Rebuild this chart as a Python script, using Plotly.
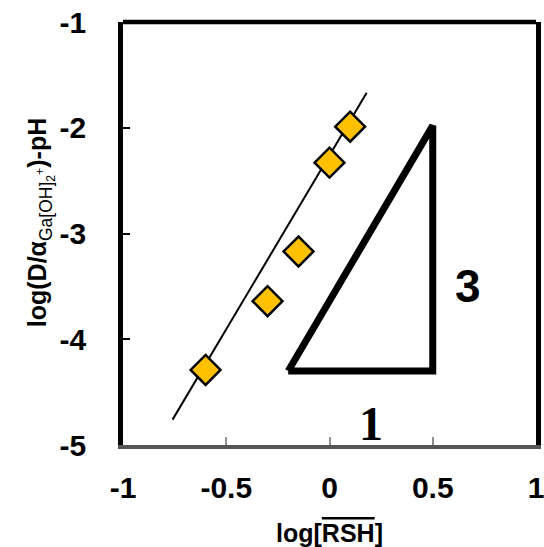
import plotly.graph_objects as go

# measured points
log_rsh = [-0.60, -0.30, -0.15, 0.00, 0.10]
log_d_ph = [-4.29, -3.64, -3.17, -2.33, -1.99]

# fitted line (slope ~3) drawn between its two end points
fit_x = [-0.76, 0.18]
fit_y = [-4.76, -1.67]

# slope-3 guide triangle
tri_x = [-0.20, 0.50, 0.50, -0.20]
tri_y = [-4.30, -4.30, -1.98, -4.30]

x_ticks = [-1, -0.5, 0, 0.5, 1]
x_tick_text = ["-1", "-0.5", "0", "0.5", "1"]
y_ticks = [-5, -4, -3, -2, -1]
y_tick_text = ["-5", "-4", "-3", "-2", "-1"]

SANS = "Liberation Sans, Arial, sans-serif"
SERIF = "Liberation Serif, Times New Roman, serif"

fig = go.Figure()

fig.add_trace(go.Scatter(
    x=tri_x, y=tri_y, mode="lines",
    line=dict(color="black", width=7), hoverinfo="skip", showlegend=False,
))
fig.add_trace(go.Scatter(
    x=fit_x, y=fit_y, mode="lines",
    line=dict(color="black", width=2), hoverinfo="skip", showlegend=False,
))
fig.add_trace(go.Scatter(
    x=log_rsh, y=log_d_ph, mode="markers",
    marker=dict(symbol="diamond", size=23, color="#FFC000",
                line=dict(color="black", width=2.5)),
    showlegend=False,
))

# frame: top edge
fig.add_shape(type="line", xref="paper", yref="paper", x0=0, x1=1, y0=1, y1=1,
              line=dict(color="black", width=4.5))

fig.add_annotation(x=0.2, y=-4.80, xref="x", yref="y", text="<b>1</b>", showarrow=False,
                   font=dict(family=SERIF, size=48, color="black"))
fig.add_annotation(x=0.67, y=-3.5, xref="x", yref="y", text="<b>3</b>", showarrow=False,
                   font=dict(family=SANS, size=46, color="black"))

fig.add_annotation(
    xref="paper", yref="paper", x=-0.245, y=0.525, textangle=-90, showarrow=False,
    text="<b>log(D/α</b><sub>Ga[OH]<sub>2</sub><sup>+</sup></sub><b>)-pH</b>",
    font=dict(family=SANS, size=25, color="black"),
)

fig.update_xaxes(
    range=[-1, 1], tickvals=x_ticks, ticktext=x_tick_text,
    showgrid=False, zeroline=False, automargin=False,
    showline=True, linecolor="#555555", linewidth=4,
    ticks="inside", ticklen=8, tickwidth=1.5, tickcolor="#909090",
    ticklabelstandoff=13, ticklabeloverflow="allow",
    tickfont=dict(family=SANS, size=30, color="black", weight="bold"),
    title=dict(text="<b>log[<span style='text-decoration:overline;text-decoration-color:#606060'>RSH</span>]</b>",
               font=dict(family=SANS, size=25, color="black"), standoff=24),
)
fig.update_yaxes(
    range=[-5, -1], tickvals=y_ticks, ticktext=y_tick_text,
    showgrid=False, zeroline=False, automargin=False,
    showline=True, mirror=True, linecolor="black", linewidth=4.5,
    ticks="inside", ticklen=7, tickwidth=1.5, tickcolor="black",
    ticklabelstandoff=26, ticklabeloverflow="allow",
    tickfont=dict(family=SANS, size=30, color="black", weight="bold"),
)

fig.update_layout(
    width=544, height=547,
    margin=dict(l=123, r=8, t=22, b=102, autoexpand=False),
    paper_bgcolor="white", plot_bgcolor="white",
)

fig.write_html("out.html")
